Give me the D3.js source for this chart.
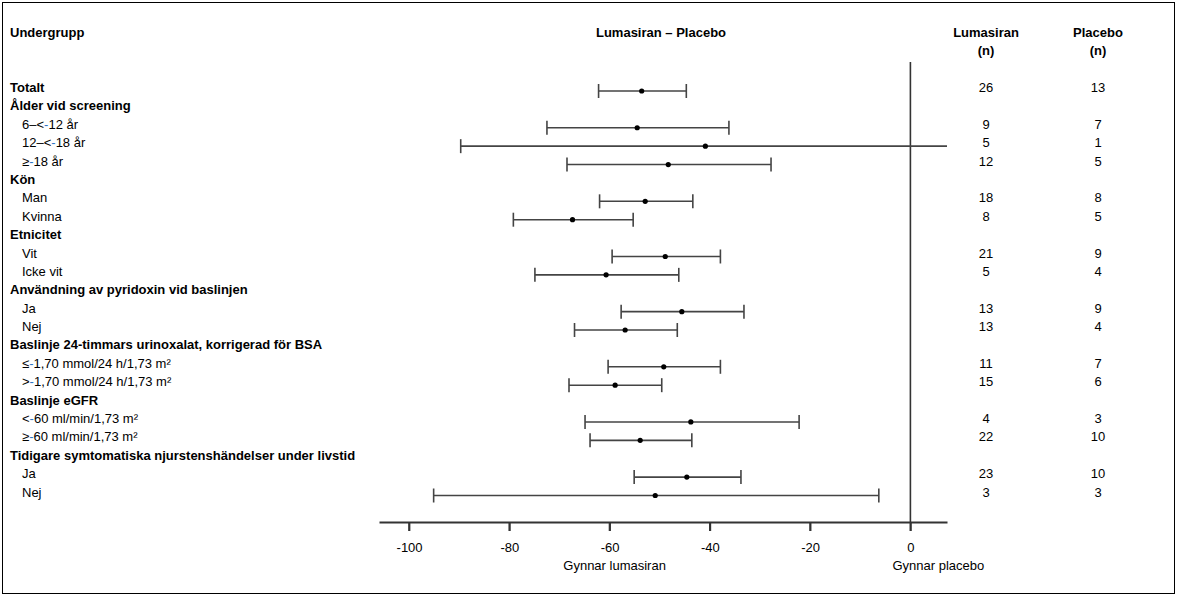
<!DOCTYPE html>
<html>
<head>
<meta charset="utf-8">
<script src="https://cdn.jsdelivr.net/npm/d3@7"></script>
<style>
  html, body { margin: 0; padding: 0; background: #fff; }
  svg { display: block; font-family: "Liberation Sans", Arial, sans-serif; }
</style>
</head>
<body>
<svg id="chart" width="1177" height="597"></svg>
<script>
// ---- Data ----
// Each label: [before-dash, blue-dash, after-dash]; headings have no dash part
const rowLabels = [
  ["Totalt"],
  ["Ålder vid screening"],
  ["6–<", "-", "12 år"],
  ["12–<", "-", "18 år"],
  ["≥", "-", "18 år"],
  ["Kön"],
  ["Man"],
  ["Kvinna"],
  ["Etnicitet"],
  ["Vit"],
  ["Icke vit"],
  ["Användning av pyridoxin vid baslinjen"],
  ["Ja"],
  ["Nej"],
  ["Baslinje 24-timmars urinoxalat, korrigerad för BSA"],
  ["≤", "-", "1,70 mmol/24 h/1,73 m²"],
  [">", "-", "1,70 mmol/24 h/1,73 m²"],
  ["Baslinje eGFR"],
  ["<", "-", "60 ml/min/1,73 m²"],
  ["≥", "-", "60 ml/min/1,73 m²"],
  ["Tidigare symtomatiska njurstenshändelser under livstid"],
  ["Ja"],
  ["Nej"]
];
const isHeading = [true, true, false, false, false, true, false, false, true, false, false,
                   true, false, false, true, false, false, true, false, false, true, false, false];
const estimate = [-53.6, null, -54.5, -40.9, -48.3, null, -52.9, -67.4, null, -48.9, -60.7,
                  null, -45.6, -56.9, null, -49.2, -58.9, null, -43.8, -53.9, null, -44.6, -50.9];
const lowerCI  = [-62.2, null, -72.5, -89.7, -68.5, null, -62.0, -79.2, null, -59.5, -74.9,
                  null, -57.7, -67.0, null, -60.3, -68.1, null, -64.9, -63.9, null, -55.1, -95.1];
const upperCI  = [-44.7, null, -36.2, 7.9, -27.8, null, -43.4, -55.3, null, -37.9, -46.2,
                  null, -33.2, -46.5, null, -37.9, -49.6, null, -22.2, -43.6, null, -33.8, -6.3];
const nLumasiran = ["26", "", "9", "5", "12", "", "18", "8", "", "21", "5",
                    "", "13", "13", "", "11", "15", "", "4", "22", "", "23", "3"];
const nPlacebo   = ["13", "", "7", "1", "5", "", "8", "5", "", "9", "4",
                    "", "9", "4", "", "7", "6", "", "3", "10", "", "10", "3"];
const tickValues = [-100, -80, -60, -40, -20, 0];
const xDomain = [-106, 7.3];

// ---- Drawing ----
const svg = d3.select("#chart");
const W = 1177, H = 597;
const FS = 13;

svg.append("rect").attr("x", 2.5).attr("y", 2.5).attr("width", W - 5).attr("height", H - 6)
  .attr("fill", "none").attr("stroke", "#000").attr("stroke-width", 1);

const x = d3.scaleLinear().domain(xDomain).range([379, 947]).clamp(true);
const y = d3.scaleLinear().domain([0, rowLabels.length - 1]).range([87.5, 492]);
const axisY = 522;
const barOffset = 3.5;
const colLum = 986, colPla = 1098;

// Headers
const hdr = svg.append("g").attr("font-size", FS).attr("font-weight", "bold").attr("fill", "#000");
hdr.append("text").attr("x", 10).attr("y", 32).attr("dy", "0.35em").text("Undergrupp");
hdr.append("text").attr("x", 661).attr("y", 32).attr("dy", "0.35em").attr("text-anchor", "middle").text("Lumasiran – Placebo");
hdr.append("text").attr("x", colLum).attr("y", 32).attr("dy", "0.35em").attr("text-anchor", "middle").text("Lumasiran");
hdr.append("text").attr("x", colLum).attr("y", 50).attr("dy", "0.35em").attr("text-anchor", "middle").text("(n)");
hdr.append("text").attr("x", colPla).attr("y", 32).attr("dy", "0.35em").attr("text-anchor", "middle").text("Placebo");
hdr.append("text").attr("x", colPla).attr("y", 50).attr("dy", "0.35em").attr("text-anchor", "middle").text("(n)");

// Row labels
const idx = d3.range(rowLabels.length);
const lab = svg.append("g").attr("font-size", FS).attr("fill", "#000");
idx.forEach(i => {
  const t = lab.append("text")
    .attr("x", isHeading[i] ? 10 : 22)
    .attr("y", y(i)).attr("dy", "0.35em")
    .attr("font-weight", isHeading[i] ? "bold" : "normal");
  const parts = rowLabels[i];
  t.append("tspan").text(parts[0]);
  if (parts.length > 1) {
    t.append("tspan").attr("fill", "#2f75c4").text(parts[1]);
    t.append("tspan").text(parts[2]);
  }
});

// n columns
const nums = svg.append("g").attr("font-size", FS).attr("fill", "#000").attr("text-anchor", "middle");
idx.forEach(i => {
  nums.append("text").attr("x", colLum).attr("y", y(i)).attr("dy", "0.35em").text(nLumasiran[i]);
  nums.append("text").attr("x", colPla).attr("y", y(i)).attr("dy", "0.35em").text(nPlacebo[i]);
});

// Zero reference line
svg.append("line").attr("x1", x(0)).attr("x2", x(0)).attr("y1", 62).attr("y2", axisY)
  .attr("stroke", "#333").attr("stroke-width", 1.6);

// Axis
const tickLen = 9;
const axis = d3.axisBottom(x).tickValues(tickValues).tickSize(tickLen).tickSizeOuter(0).tickPadding(12)
  .tickFormat(d => String(d));
const ag = svg.append("g").attr("transform", `translate(0,${axisY})`).call(axis);
ag.select(".domain").attr("stroke", "#333").attr("stroke-width", 1.8);
ag.selectAll(".tick line").attr("stroke", "#333").attr("stroke-width", 1.6);
ag.selectAll(".tick text").attr("font-size", FS).attr("font-family", "'Liberation Sans', Arial, sans-serif").attr("fill", "#000");
// explicit tick marks (ensure they are drawn clearly)
ag.selectAll(".tickmark").data(tickValues).join("line").attr("class", "tickmark")
  .attr("x1", d => x(d)).attr("x2", d => x(d)).attr("y1", 0).attr("y2", tickLen)
  .attr("stroke", "#333").attr("stroke-width", 1.8);

svg.append("text").attr("x", x(-60) + 5).attr("y", 565).attr("dy", "0.35em").attr("text-anchor", "middle")
  .attr("font-size", FS).text("Gynnar lumasiran");
svg.append("text").attr("x", x(0) + 28).attr("y", 565).attr("dy", "0.35em").attr("text-anchor", "middle")
  .attr("font-size", FS).text("Gynnar placebo");

// Error bars
const bars = svg.append("g");
const capH = 7;
idx.filter(i => estimate[i] !== null).forEach(i => {
  const yy = y(i) + barOffset;
  bars.append("line").attr("x1", x(lowerCI[i])).attr("x2", x(upperCI[i])).attr("y1", yy).attr("y2", yy)
    .attr("stroke", "#444").attr("stroke-width", 1.6);
  [lowerCI[i], upperCI[i]].forEach(v => {
    if (v >= xDomain[0] && v <= xDomain[1]) {
      bars.append("line").attr("x1", x(v)).attr("x2", x(v)).attr("y1", yy - capH).attr("y2", yy + capH)
        .attr("stroke", "#444").attr("stroke-width", 1.6);
    }
  });
  bars.append("circle").attr("cx", x(estimate[i])).attr("cy", yy).attr("r", 2.6).attr("fill", "#000");
});
</script>
</body>
</html>
